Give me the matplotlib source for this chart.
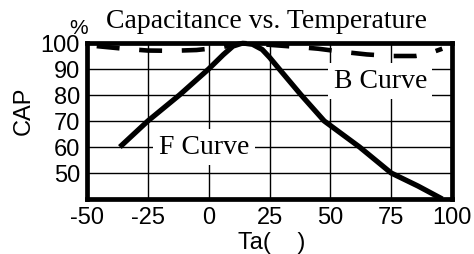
import matplotlib
matplotlib.use("Agg")
import matplotlib.pyplot as plt

# Data
f_temp = [-36.5, -25, -12, 0, 6, 10, 14, 18, 22, 25, 29, 38, 47.5, 62, 75, 86, 96]
f_cap = [60, 70, 80, 90, 95.5, 98.8, 100, 99.5, 97.5, 94.5, 90, 80, 70, 60, 50, 45, 40]
b_temp = [-46, -35, -25, -15, -5, 5, 14, 25, 35, 45, 55, 65, 75, 85, 90, 96]
b_cap = [98.8, 97.8, 97.1, 97.0, 97.3, 98.3, 100, 99.3, 98.6, 97.8, 96.6, 95.6, 95.0, 95.0, 95.8, 97.8]
x_ticks = [-50, -25, 0, 25, 50, 75, 100]
y_ticks = [50, 60, 70, 80, 90, 100]

W, H = 474, 255
fig = plt.figure(figsize=(W / 100, H / 100), dpi=100)
ax = fig.add_axes([87 / W, 1 - 200 / H, (452 - 87) / W, (200 - 44) / H])

ax.set_xlim(-50, 100)
ax.set_ylim(40, 100)
ax.set_xticks(x_ticks)
ax.set_yticks(y_ticks)
ax.set_xticklabels([str(v) for v in x_ticks], fontsize=17, family="Liberation Sans")
ax.set_yticklabels([str(v) for v in y_ticks], fontsize=17, family="Liberation Sans")
ax.tick_params(length=0, pad=5)
ax.grid(True, color="black", linewidth=1.0)
ax.set_axisbelow(True)
for s in ax.spines.values():
    s.set_linewidth(3.4)
    s.set_zorder(5)

ax.plot(f_temp, f_cap, color="black", linewidth=3.8, solid_capstyle="butt", zorder=4)
ax.plot(b_temp, b_cap, color="black", linewidth=3.3, dashes=(5, 4.3), zorder=4, clip_on=False)

ax.text(70.5, 85.4, "B Curve", fontsize=20, family="Liberation Serif", ha="center", va="center",
        bbox=dict(facecolor="white", edgecolor="none", pad=4), zorder=3)
ax.text(-2, 60, "F Curve", fontsize=20, family="Liberation Serif", ha="center", va="center",
        bbox=dict(facecolor="white", edgecolor="none", pad=4), zorder=3)

fig.text(266 / W, 1 - 21 / H, "Capacitance vs. Temperature", fontsize=20, family="Liberation Serif",
         ha="center", va="center")
fig.text(79 / W, 1 - 29 / H, "%", fontsize=15, family="Liberation Sans", ha="center", va="center")
fig.text(24 / W, 1 - 111 / H, "CAP", fontsize=17, family="Liberation Sans", ha="center", va="center",
         rotation=90)
fig.text(272 / W, 1 - 243 / H, "Ta(    )", fontsize=17, family="Liberation Sans", ha="center", va="center")

fig.savefig("out.png", dpi=100)
